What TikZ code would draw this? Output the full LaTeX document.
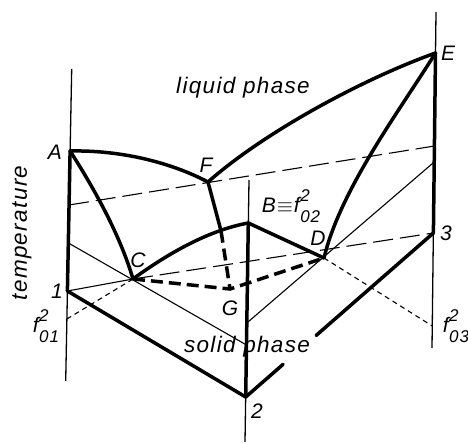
\documentclass[tikz,border=0pt]{standalone}
\usepackage{fontspec}
\setmainfont{Liberation Sans}
\newfontfamily\labfont[LetterSpace=6]{Liberation Sans}
\usetikzlibrary{calc}

% f with superscript 2 and a subscript
\newcommand{\fsup}[1]{f\kern0.5pt\rlap{\raisebox{0.55em}{\fontsize{17}{17}\selectfont 2}}%
  \raisebox{-0.45em}{\fontsize{17}{17}\selectfont #1}}

\begin{document}
\begin{tikzpicture}[
  x=1pt, y=-1pt,
  axisln/.style={line width=1.3pt},
  thickln/.style={line width=3.5pt, line join=round, line cap=round},
  thinln/.style={line width=1.1pt},
  longdash/.style={line width=1.1pt, dash pattern=on 20pt off 7pt},
  shortdash/.style={line width=1.1pt, dash pattern=on 5pt off 4pt},
  hidln/.style={line width=3.5pt, dash pattern=on 12pt off 6pt},
  lbl/.style={font=\labfont\itshape\fontsize{21}{22}\selectfont, inner sep=1pt},
  phrase/.style={font=\labfont\itshape\fontsize{22.5}{24}\selectfont, inner sep=1pt}
]
\useasboundingbox (0,0) rectangle (468,443);
%--- the three temperature axes ----------------------------------------------
\coordinate (Ltop) at (71.7,69);   \coordinate (Lbot) at (65.7,381);
\coordinate (Mtop) at (249,180);   \coordinate (Mbot) at (245,442);
\coordinate (Rtop) at (436,12);    \coordinate (Rbot) at (432,348);
%--- points on the axes ------------------------------------------------------
\coordinate (A)   at (70.1,151);
\coordinate (P1)  at (67.4,291);
\coordinate (f01) at (66.9,319);
\coordinate (Lf)  at (69.1,205);
\coordinate (Lc)  at (68.4,243);
\coordinate (B)   at (248.3,223);
\coordinate (P2)  at (245.7,397);
\coordinate (Mc)  at (246.5,345);
\coordinate (Md)  at (246.8,323);
\coordinate (E)   at (435.5,53);
\coordinate (P3)  at (433.4,233);
\coordinate (f03) at (432.3,326);
\coordinate (Rf)  at (434.4,146);
\coordinate (Rd)  at (434.2,162);
%--- points inside -----------------------------------------------------------
\coordinate (F) at (208,182);
\coordinate (C) at (133,279);
\coordinate (D) at (324,258);
\coordinate (G) at (230,289);
\coordinate (K) at (221,230.8);
\coordinate (g1) at ($(P2)!0.199!(P3)$);
\coordinate (g2) at ($(P2)!0.375!(P3)$);
%--- thin lines --------------------------------------------------------------
\draw[axisln] (Ltop) -- (Lbot);
\draw[axisln] (Mtop) -- (Mbot);
\draw[axisln] (Rtop) -- (Rbot);
\draw[longdash] (Lf) -- (Rf);
\draw[thinln] (P1) -- (C);
\draw[longdash] (C) -- (P3);
\draw[thinln] (Lc) -- (Mc);
\draw[thinln] (Md) -- (Rd);
\draw[shortdash] (f01) -- (C);
\draw[shortdash] (D) -- (f03);
%--- thick lines -------------------------------------------------------------
\draw[thickln] (A) -- (P1);
\draw[thickln] (B) -- (P2);
\draw[thickln] (E) -- (P3);
\draw[thickln] (P1) -- (P2) -- (g1);
\draw[thickln] (g2) -- (P3);
\draw[thickln] (A) .. controls (120,150) and (170,162) .. (F);
\draw[thickln] (F) .. controls (262,134) and (360,80) .. (E);
\draw[thickln] (A) .. controls (95,190) and (120,235) .. (C);
\draw[thickln] (E) .. controls (400,110) and (340,190) .. (D);
\draw[thickln] (C) .. controls (170,252) and (210,230) .. (B);
\draw[thickln] (F) -- (K);
\draw[thickln] (B) -- (D);
\draw[hidln] (K) -- (G);
\draw[hidln] (C) -- (G) -- (D);
%--- labels ------------------------------------------------------------------
\node[lbl] (lA) at (55,152) {A};
\node[lbl] (lF) at (206,165) {F};
\node[lbl] (lE) at (448,53) {E};
\node[lbl] (lB) at (291,206) {B\kern1pt$\equiv$\kern1pt\fsup{02}};
\node[lbl] (lC) at (138,260) {C};
\node[lbl] (lD) at (318,238) {D};
\node[lbl] (lG) at (230,308) {G};
\node[lbl] (l1) at (57,291) {1};
\node[lbl] (l2) at (257,411) {2};
\node[lbl] (l3) at (446,233) {3};
\node[lbl] (lf01) at (46,326) {\fsup{01}};
\node[lbl] (lf03) at (456,326) {\fsup{03}};
\node[phrase, rotate=90] (temp) at (22,233) {temperature};
\node[phrase] (liq) at (243,88) {liquid phase};
\node[phrase] (sol) at (247,347) {solid phase};
\end{tikzpicture}
\end{document}
